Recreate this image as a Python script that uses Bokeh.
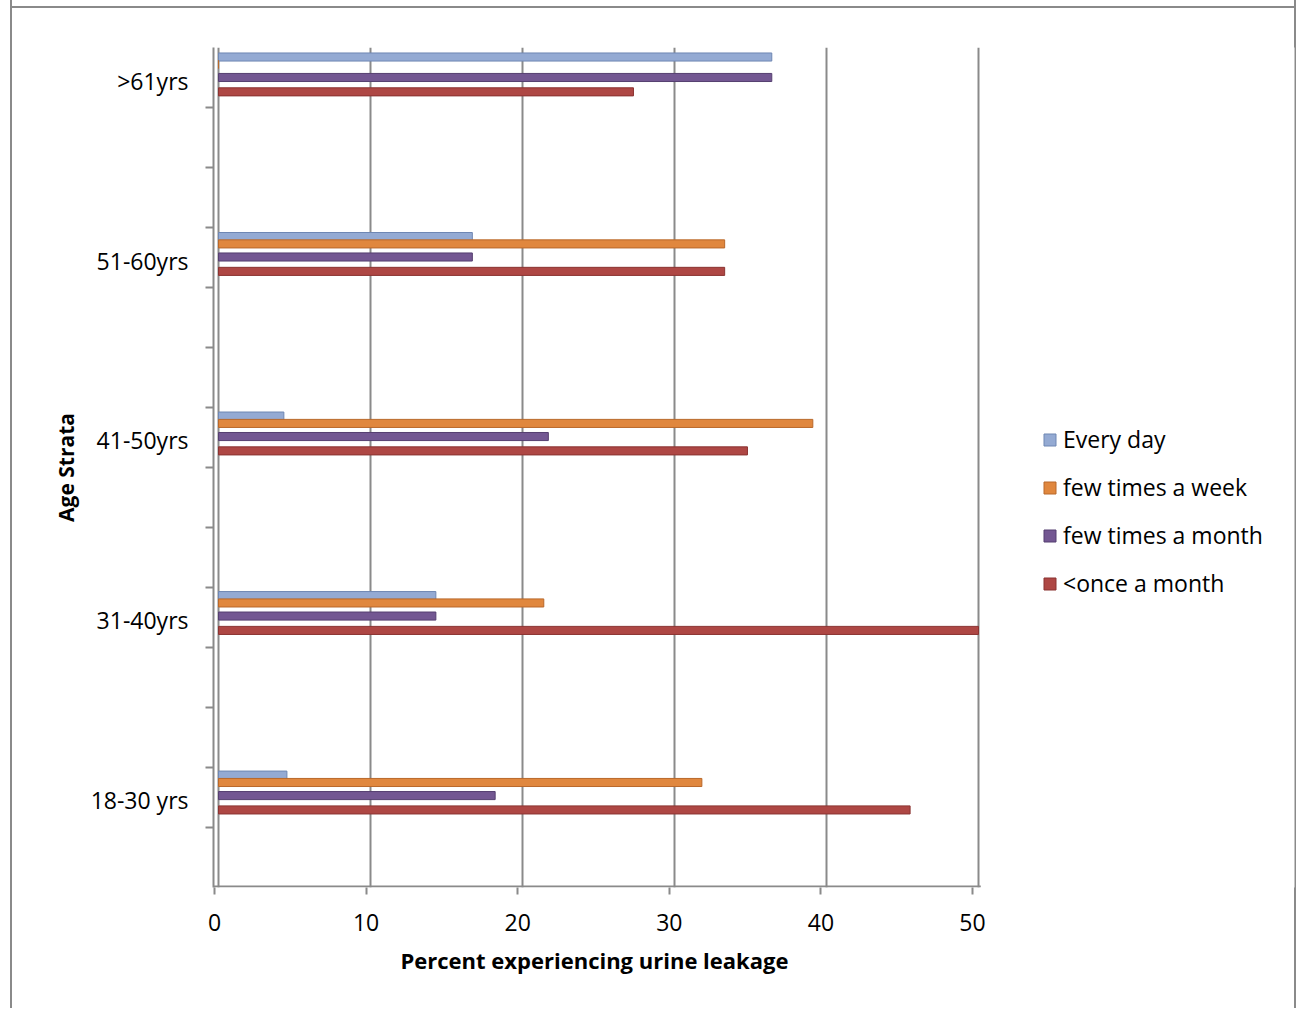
from bokeh.plotting import figure
from bokeh.models import (Range1d, FixedTicker, LinearAxis, Legend, LegendItem,
                          ColumnDataSource, Title)
from bokeh.embed import file_html
from bokeh.resources import INLINE

# ---------------- data ----------------
categories = ["18-30 yrs", "31-40yrs", "41-50yrs", "51-60yrs", ">61yrs"]
series_names = ["Every day", "few times a week", "few times a month", "<once a month"]
every_day = [4.5, 14.3, 4.3, 16.7, 36.4]
few_times_week = [31.8, 21.4, 39.1, 33.3, 0.0]
few_times_month = [18.2, 14.3, 21.7, 16.7, 36.4]
once_month = [45.5, 50.0, 34.8, 33.3, 27.3]
x_ticks = [0, 10, 20, 30, 40, 50]
x_title = "Percent experiencing urine leakage"
y_title = "Age Strata"

# ---------------- style ----------------
FONT = "Open Sans"
fills = ["#94AAD3", "#E0873E", "#735792", "#AE4744"]
lines = ["#6F87B3", "#B9682A", "#553F70", "#8A3331"]
offsets = [0.136, 0.095, 0.022, -0.058]   # position of each series inside a category band
bar_h = 0.045
GRID = "#8a8a8a"
X0, X1 = -0.33, 70.79          # frame spans the legend area too
Y0, Y1 = -0.49, 4.189

p = figure(width=1296, height=1008, output_backend="svg", toolbar_location=None,
           x_range=Range1d(X0, X1), y_range=Range1d(Y0, Y1),
           x_axis_location=None, y_axis_location=None,
           min_border_left=213, min_border_right=2,
           min_border_top=47, min_border_bottom=121)
p.outline_line_color = None
p.border_fill_alpha = 0
p.background_fill_color = "white"
p.styles = {"box-shadow": ("inset 10px 0 0 0 white, inset 12px 0 0 0 #8a8a8a, "
                           "inset -2px 0 0 0 #8a8a8a, "
                           "inset 0 6px 0 0 white, inset 0 8px 0 0 #8a8a8a")}

# grid (back wall)
p.xgrid.ticker = FixedTicker(ticks=x_ticks)
p.xgrid.grid_line_color = GRID
p.xgrid.grid_line_width = 2
p.ygrid.grid_line_color = None

# floor line (only under the plotted area)
p.segment(x0=[X0], y0=[Y0 + 0.006], x1=[x_ticks[-1] + 0.15], y1=[Y0 + 0.006],
          line_color=GRID, line_width=2)

# bottom (front) axis
p.extra_x_ranges = {"front": Range1d(-0.066, 71.24)}
xax = LinearAxis(x_range_name="front", ticker=FixedTicker(ticks=x_ticks, minor_ticks=[]))
xax.axis_line_color = None
xax.major_tick_line_color = GRID
xax.major_tick_line_width = 2
xax.major_tick_out = 7
xax.major_tick_in = 0
xax.minor_tick_line_color = None
xax.major_label_text_font = FONT
xax.major_label_text_font_size = "23px"
xax.major_label_text_color = "black"
xax.major_label_standoff = 19
p.add_layout(xax, "below")

xt = Title(text=x_title, align="left", offset=187, standoff=19,
           text_font=FONT, text_font_size="22px", text_font_style="bold",
           text_color="black")
p.add_layout(xt, "below")

# left axis: category labels, minor ticks between
minor = [(799 - (887 - 60 * k)) / 179.5 for k in range(15)]
yax = LinearAxis(ticker=FixedTicker(ticks=list(range(len(categories))), minor_ticks=minor))
yax.major_label_overrides = {i: c for i, c in enumerate(categories)}
yax.axis_line_color = GRID
yax.axis_line_width = 2
yax.major_tick_out = 0
yax.major_tick_in = 0
yax.minor_tick_out = 8
yax.minor_tick_in = 0
yax.minor_tick_line_color = GRID
yax.minor_tick_line_width = 2
yax.major_label_text_font = FONT
yax.major_label_text_font_size = "23px"
yax.major_label_text_color = "black"
yax.major_label_standoff = 17
yax.axis_label = y_title
yax.axis_label_text_font = FONT
yax.axis_label_text_font_size = "21px"
yax.axis_label_text_font_style = "bold"
yax.axis_label_text_color = "black"
yax.axis_label_standoff = 8
p.add_layout(yax, "left")

# bars
all_values = [every_day, few_times_week, few_times_month, once_month]
items = []
for name, vals, fc, lc, off in zip(series_names, all_values, fills, lines, offsets):
    src = ColumnDataSource(dict(y=[i + off for i in range(len(categories))],
                                right=vals, cat=categories))
    r = p.hbar(y="y", left=0, right="right", height=bar_h, source=src,
               fill_color=fc, line_color=lc, line_width=1)
    items.append(LegendItem(label=name, renderers=[r]))

legend = Legend(items=items, location=(829, 288))
legend.glyph_width = 15
legend.glyph_height = 15
legend.label_standoff = 6
legend.padding = 0
legend.margin = 0
legend.spacing = 16
legend.border_line_color = None
legend.background_fill_alpha = 0
legend.label_text_font = FONT
legend.label_text_font_size = "23px"
legend.label_text_color = "black"
p.add_layout(legend, "center")

open("out.html", "w").write(file_html(p, INLINE))
